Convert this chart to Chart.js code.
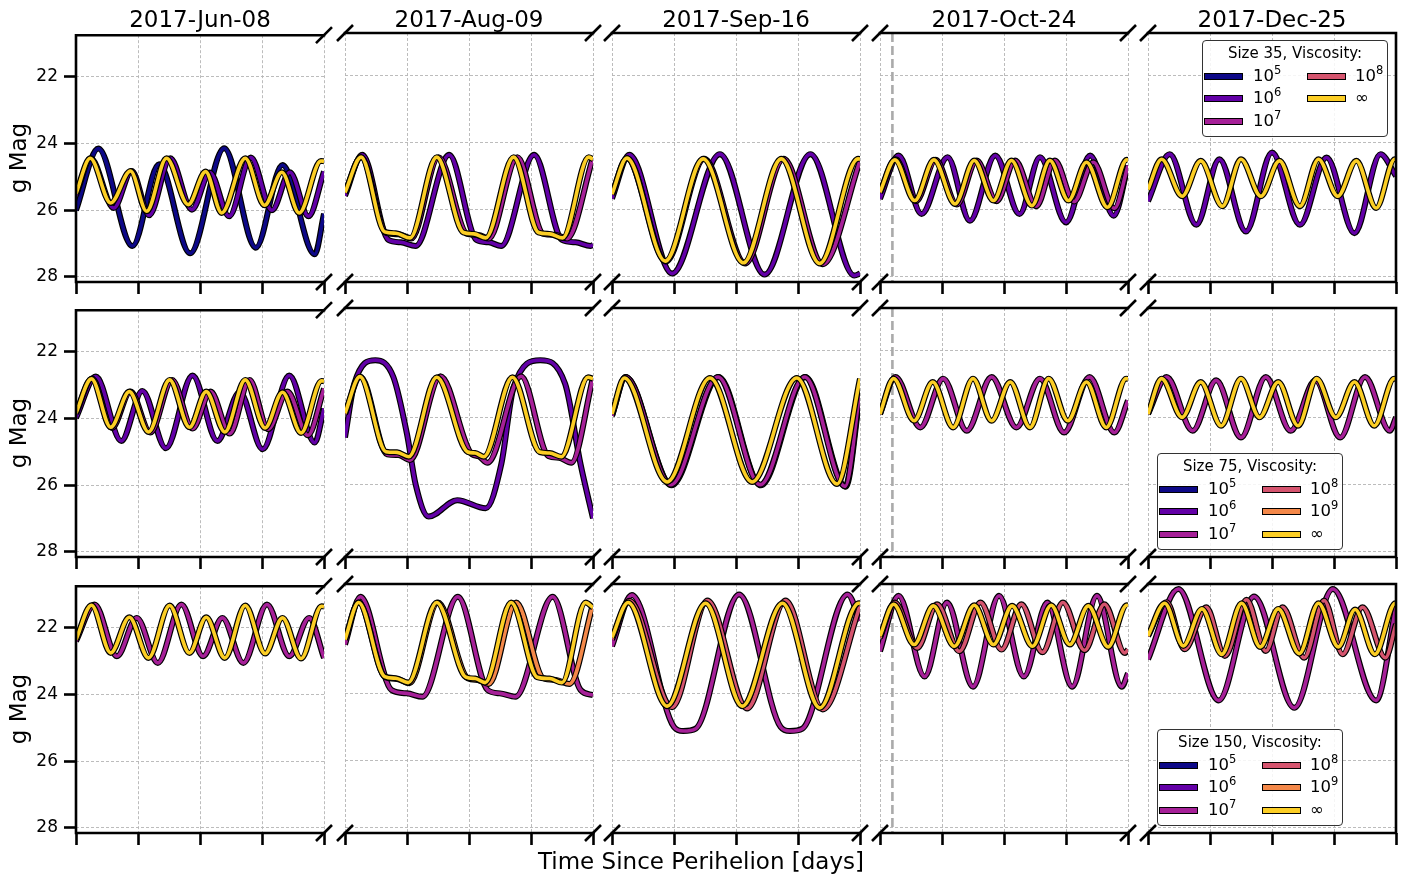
<!DOCTYPE html>
<html>
<head>
<meta charset="utf-8">
<script src="https://cdn.jsdelivr.net/npm/chart.js@4.4.1/dist/chart.umd.min.js"></script>
<style>
  body { margin: 0; background: #fff; }
  #fig { position: relative; width: 1408px; height: 879px; overflow: hidden; font-family: 'DejaVu Sans', sans-serif; color: #000; }
  #fig canvas { position: absolute; }
  .txt { position: absolute; white-space: nowrap; text-align: center; font-size: 23px; line-height: 26px; height: 26px; }
  .legend { position: absolute; width: 184px; height: 95px; border: 1px solid #333; border-radius: 4px; background: rgba(255,255,255,0.85); }
  .legend .lt { position: absolute; left: 0; right: 0; top: 3px; text-align: center; font-size: 15px; line-height: 18px; }
  .legend .sw { position: absolute; width: 37px; height: 5px; border: 1.5px solid #000; }
  .legend .lb { position: absolute; font-size: 16.5px; line-height: 20px; }
  .legend sup { font-size: 11.5px; vertical-align: 7px; line-height: 0; }
</style>
</head>
<body>
<div id="fig"></div>
<script>
// ---------- axes ----------
const dates = ['2017-Jun-08', '2017-Aug-09', '2017-Sep-16', '2017-Oct-24', '2017-Dec-25'];
const sizes = [35, 75, 150];
const viscKeys = ['v5', 'v6', 'v7', 'v8', 'v9', 'inf'];
const viscLabels = ['10<sup>5</sup>', '10<sup>6</sup>', '10<sup>7</sup>', '10<sup>8</sup>', '10<sup>9</sup>', '∞'];
const viscColors = ['#0d0887', '#6300a7', '#a62098', '#d5546e', '#f48849', '#fcce25'];
const legendKeys = [
  ['v5', 'v6', 'v7', 'v8', 'inf'],
  ['v5', 'v6', 'v7', 'v8', 'v9', 'inf'],
  ['v5', 'v6', 'v7', 'v8', 'v9', 'inf']
];
const magTicks = [22, 24, 26, 28];
const magRange = [20.75, 28.15];
const timeTicks = [0, 1, 2, 3, 4];
const timeRange = [0, 4];
const markerTime = 0.2;   // dashed marker, Oct-24 column
const markerCol = 3;

// ---------- light curves: [time, g mag] ----------
// size 35
const s35_jun08_v5 = [[0,26.0],[0.36,24.15],[0.91,27.07],[1.34,24.62],[1.84,27.29],[2.39,24.14],[2.9,27.12],[3.33,24.64],[3.85,27.32],[4,26.1]];
const s35_jun08_v6 = [[0,25.55],[0.24,24.45],[0.61,25.93],[0.9,24.82],[1.18,26.15],[1.52,24.44],[1.87,25.98],[2.16,24.87],[2.47,26.18],[2.82,24.42],[3.16,26.0],[3.45,24.86],[3.75,26.18],[4,24.84]];
const s35_jun08_inf = [[0,25.5],[0.23,24.44],[0.56,25.78],[0.88,24.82],[1.14,26.03],[1.46,24.44],[1.81,25.83],[2.09,24.84],[2.35,26.08],[2.73,24.44],[3.04,25.85],[3.32,24.86],[3.6,26.08],[3.95,24.52],[4,24.53]];

const s35_aug09_v6 = [[0,25.59],[0.28,24.37],[0.7,26.9],[0.9,26.97],[1.14,27.08],[1.68,24.37],[2.12,26.9],[2.32,26.97],[2.52,27.08],[3.05,24.37],[3.5,26.9],[3.72,26.97],[3.96,27.08],[4,27.05]];
const s35_aug09_v7 = [[0,25.5],[0.26,24.44],[0.67,26.7],[0.86,26.73],[1.07,26.86],[1.51,24.44],[1.97,26.72],[2.15,26.75],[2.32,26.86],[2.78,24.44],[3.2,26.72],[3.4,26.75],[3.58,26.86],[4,24.45]];
const s35_aug09_inf = [[0,25.49],[0.26,24.44],[0.64,26.66],[0.82,26.7],[1.05,26.84],[1.48,24.44],[1.91,26.68],[2.08,26.72],[2.27,26.84],[2.72,24.44],[3.12,26.68],[3.3,26.72],[3.51,26.84],[3.93,24.44],[4,24.5]];

const s35_sep16_v6 = [[0,25.67],[0.28,24.37],[0.97,27.9],[1.74,24.35],[2.46,27.93],[3.2,24.35],[3.91,27.96],[4,27.9]];
const s35_sep16_v7 = [[0,25.55],[0.24,24.47],[0.87,27.54],[1.49,24.49],[2.15,27.6],[2.77,24.49],[3.4,27.62],[4,24.55]];
const s35_sep16_inf = [[0,25.54],[0.24,24.47],[0.86,27.53],[1.47,24.49],[2.12,27.58],[2.73,24.49],[3.35,27.6],[3.97,24.49],[4,24.5]];

const s35_oct24_v6 = [[0,25.68],[0.3,24.39],[0.67,26.13],[1.09,24.44],[1.45,26.33],[1.86,24.39],[2.25,26.13],[2.58,24.44],[3.0,26.38],[3.39,24.39],[3.77,26.18],[4,24.69]];
const s35_oct24_v7 = [[0,25.5],[0.25,24.5],[0.58,25.75],[0.9,24.52],[1.24,25.85],[1.56,24.54],[1.88,25.75],[2.18,24.54],[2.52,25.9],[2.82,24.54],[3.13,25.76],[3.44,24.59],[3.78,25.96],[4,24.7]];
const s35_oct24_inf = [[0,25.48],[0.24,24.52],[0.56,25.73],[0.87,24.52],[1.21,25.83],[1.52,24.54],[1.83,25.73],[2.12,24.54],[2.45,25.88],[2.74,24.54],[3.04,25.73],[3.33,24.59],[3.67,25.93],[3.98,24.52],[4,24.53]];

const s35_dec25_v6 = [[0,25.75],[0.35,24.35],[0.78,26.45],[1.15,24.5],[1.58,26.65],[2.0,24.3],[2.45,26.45],[2.88,24.45],[3.33,26.7],[3.75,24.35],[4,25.0]];
const s35_dec25_inf = [[0,25.4],[0.22,24.5],[0.55,25.6],[0.85,24.55],[1.2,25.9],[1.5,24.5],[1.82,25.6],[2.12,24.55],[2.45,25.9],[2.75,24.5],[3.06,25.6],[3.36,24.55],[3.68,25.95],[3.98,24.5],[4,24.5]];

// size 75
const s75_jun08_v6 = [[0,23.98],[0.32,22.74],[0.73,24.67],[1.07,23.17],[1.45,24.89],[1.88,22.71],[2.28,24.67],[2.64,23.2],[3.01,24.92],[3.44,22.71],[3.85,24.72],[4,23.7]];
const s75_jun08_v7 = [[0,23.85],[0.26,22.8],[0.58,24.28],[0.88,23.19],[1.2,24.42],[1.55,22.84],[1.88,24.3],[2.17,23.19],[2.48,24.45],[2.8,22.84],[3.1,24.32],[3.41,23.19],[3.74,24.5],[4,23.1]];
const s75_jun08_inf = [[0,23.83],[0.25,22.81],[0.56,24.26],[0.86,23.19],[1.17,24.4],[1.51,22.84],[1.83,24.26],[2.1,23.19],[2.4,24.4],[2.73,22.84],[3.05,24.28],[3.33,23.21],[3.63,24.43],[3.96,22.87],[4,22.88]];

const s75_aug09_v6 = [[0,24.6],[0.15,23.0],[0.49,22.3],[0.78,22.8],[1.0,24.5],[1.14,26.0],[1.35,26.95],[1.81,26.46],[2.27,26.7],[2.52,25.4],[2.72,23.1],[3.15,22.3],[3.55,23.0],[3.8,25.4],[4,27.0]];
const s75_aug09_v7 = [[0,23.9],[0.25,22.79],[0.68,25.1],[0.86,25.12],[1.05,25.27],[1.54,22.78],[2.05,25.1],[2.15,25.15],[2.3,25.35],[2.84,22.78],[3.28,25.15],[3.45,25.2],[3.65,25.35],[4,22.82]];
const s75_aug09_inf = [[0,23.88],[0.24,22.79],[0.66,25.02],[0.84,25.04],[1.03,25.17],[1.48,22.81],[1.98,25.03],[2.1,25.06],[2.24,25.17],[2.7,22.81],[3.14,25.03],[3.3,25.06],[3.49,25.17],[3.92,22.81],[4,22.85]];

const s75_sep16_v6 = [[0,23.95],[0.22,22.8],[0.96,26.02],[1.72,22.8],[2.4,26.02],[3.12,22.8],[3.77,26.06],[4,23.3]];
const s75_sep16_v7 = [[0,23.95],[0.22,22.8],[0.95,26.0],[1.71,22.8],[2.39,26.0],[3.11,22.8],[3.76,26.05],[4,23.2]];
const s75_sep16_inf = [[0,23.9],[0.2,22.83],[0.89,25.92],[1.58,22.83],[2.26,25.92],[2.98,22.83],[3.63,25.98],[4,22.85]];

const s75_oct24_v7 = [[0,23.9],[0.25,22.8],[0.65,24.3],[1.02,22.85],[1.4,24.4],[1.8,22.8],[2.2,24.3],[2.58,22.85],[2.97,24.45],[3.38,22.8],[3.78,24.45],[4,23.5]];
const s75_oct24_inf = [[0,23.9],[0.22,22.85],[0.55,24.1],[0.85,22.95],[1.18,24.3],[1.5,22.85],[1.8,24.1],[2.1,22.95],[2.42,24.3],[2.72,22.85],[3.03,24.1],[3.33,22.95],[3.65,24.3],[3.97,22.85],[4,22.86]];

const s75_dec25_v7 = [[0,23.9],[0.3,22.8],[0.72,24.4],[1.1,22.9],[1.5,24.6],[1.9,22.8],[2.3,24.4],[2.7,22.9],[3.1,24.6],[3.5,22.8],[3.9,24.4],[4,24.0]];
const s75_dec25_inf = [[0,23.9],[0.22,22.85],[0.55,24.0],[0.85,22.95],[1.18,24.25],[1.5,22.85],[1.8,24.0],[2.1,22.95],[2.42,24.25],[2.72,22.85],[3.03,24.0],[3.33,22.95],[3.65,24.25],[3.97,22.85],[4,22.86]];

// size 150
const s150_jun08_v7 = [[0,22.4],[0.3,21.3],[0.66,22.85],[0.98,21.7],[1.32,23.05],[1.7,21.3],[2.05,22.85],[2.36,21.7],[2.7,23.05],[3.08,21.3],[3.44,22.85],[3.76,21.7],[4,22.9]];
const s150_jun08_inf = [[0,22.35],[0.25,21.32],[0.56,22.75],[0.86,21.68],[1.17,22.9],[1.51,21.33],[1.83,22.75],[2.1,21.68],[2.4,22.9],[2.73,21.33],[3.05,22.77],[3.33,21.7],[3.63,22.92],[3.96,21.35],[4,21.36]];

const s150_aug09_v7 = [[0,22.55],[0.25,21.13],[0.75,23.9],[1.0,24.0],[1.25,24.1],[1.82,21.13],[2.3,23.9],[2.5,24.0],[2.75,24.1],[3.35,21.13],[3.8,23.9],[4,24.05]];
const s150_aug09_v9 = [[0,22.4],[0.22,21.3],[0.65,23.52],[0.84,23.57],[1.04,23.7],[1.5,21.3],[1.98,23.55],[2.14,23.6],[2.32,23.72],[2.76,21.3],[3.2,23.55],[3.4,23.6],[3.62,23.72],[4,21.35]];
const s150_aug09_inf = [[0,22.4],[0.22,21.3],[0.64,23.5],[0.82,23.55],[1.02,23.68],[1.48,21.3],[1.95,23.52],[2.1,23.56],[2.26,23.68],[2.68,21.3],[3.1,23.52],[3.3,23.56],[3.5,23.68],[3.88,21.3],[4,21.45]];

const s150_sep16_v7 = [[0,22.6],[0.32,21.08],[1.0,25.0],[1.15,25.12],[1.35,25.05],[2.05,21.06],[2.72,25.0],[2.87,25.12],[3.07,25.05],[3.8,21.06],[4,21.84]];
const s150_sep16_v8 = [[0,22.4],[0.28,21.25],[0.97,24.41],[1.54,21.24],[2.18,24.45],[2.8,21.24],[3.4,24.48],[4,21.4]];
const s150_sep16_inf = [[0,22.34],[0.26,21.3],[0.89,24.38],[1.51,21.32],[2.1,24.38],[2.75,21.32],[3.35,24.43],[3.98,21.32],[4,21.33]];

const s150_oct24_v7 = [[0,22.75],[0.3,21.1],[0.72,23.5],[1.08,21.3],[1.5,23.8],[1.92,21.1],[2.32,23.5],[2.7,21.3],[3.1,23.8],[3.5,21.1],[3.9,23.8],[4,23.4]];
const s150_oct24_v8 = [[0,22.35],[0.24,21.3],[0.6,22.65],[0.92,21.35],[1.28,22.75],[1.62,21.3],[1.96,22.7],[2.28,21.35],[2.62,22.78],[2.95,21.3],[3.3,22.72],[3.62,21.35],[3.95,22.8],[4,22.7]];
const s150_oct24_inf = [[0,22.3],[0.22,21.35],[0.55,22.55],[0.86,21.4],[1.2,22.6],[1.52,21.38],[1.83,22.55],[2.13,21.4],[2.46,22.6],[2.76,21.38],[3.06,22.55],[3.36,21.4],[3.68,22.62],[3.98,21.38],[4,21.4]];

const s150_dec25_v7 = [[0,22.99],[0.49,20.9],[1.14,24.21],[1.71,21.12],[2.36,24.43],[2.98,20.9],[3.68,24.21],[4,21.44]];
const s150_dec25_v8 = [[0,22.3],[0.3,21.29],[0.59,22.69],[0.94,21.44],[1.24,22.89],[1.59,21.22],[1.9,22.74],[2.17,21.44],[2.52,22.94],[2.84,21.24],[3.14,22.84],[3.46,21.44],[3.83,22.94],[4,21.94]];
const s150_dec25_inf = [[0,22.29],[0.27,21.32],[0.57,22.59],[0.87,21.49],[1.19,22.84],[1.51,21.32],[1.81,22.62],[2.1,21.49],[2.44,22.82],[2.75,21.32],[3.07,22.62],[3.34,21.51],[3.66,22.84],[3.99,21.32],[4,21.32]];

// rows = sizes, columns = dates
const panels = [
  [
    { v5: s35_jun08_v5, v6: s35_jun08_v6, inf: s35_jun08_inf },
    { v6: s35_aug09_v6, v7: s35_aug09_v7, inf: s35_aug09_inf },
    { v6: s35_sep16_v6, v7: s35_sep16_v7, inf: s35_sep16_inf },
    { v6: s35_oct24_v6, v7: s35_oct24_v7, inf: s35_oct24_inf },
    { v6: s35_dec25_v6, inf: s35_dec25_inf }
  ],
  [
    { v6: s75_jun08_v6, v7: s75_jun08_v7, inf: s75_jun08_inf },
    { v6: s75_aug09_v6, v7: s75_aug09_v7, inf: s75_aug09_inf },
    { v6: s75_sep16_v6, v7: s75_sep16_v7, inf: s75_sep16_inf },
    { v7: s75_oct24_v7, inf: s75_oct24_inf },
    { v7: s75_dec25_v7, inf: s75_dec25_inf }
  ],
  [
    { v7: s150_jun08_v7, inf: s150_jun08_inf },
    { v7: s150_aug09_v7, v9: s150_aug09_v9, inf: s150_aug09_inf },
    { v7: s150_sep16_v7, v8: s150_sep16_v8, inf: s150_sep16_inf },
    { v7: s150_oct24_v7, v8: s150_oct24_v8, inf: s150_oct24_inf },
    { v7: s150_dec25_v7, v8: s150_dec25_v8, inf: s150_dec25_inf }
  ]
];

// ---------- layout ----------
const colLeft = [76, 345, 612, 880, 1148];
const rowTop = [33, 308, 584];
const panelW = 248, panelH = 249;
const PAD = 14, YAXIS_W = 66, XAXIS_H = 16;

const fig = document.getElementById('fig');

// spines on top/bottom (and outer sides), "//" marks at the axis breaks
const framePlugin = {
  id: 'frame',
  afterDatasetsDraw(chart, args, opts) {
    const { ctx, chartArea: a } = chart;
    ctx.save();
    ctx.strokeStyle = '#000';
    ctx.lineWidth = 2.6;
    ctx.lineCap = 'square';
    ctx.beginPath();
    ctx.moveTo(a.left, a.top); ctx.lineTo(a.right, a.top);
    ctx.moveTo(a.left, a.bottom); ctx.lineTo(a.right, a.bottom);
    if (opts.first) { ctx.moveTo(a.left, a.top); ctx.lineTo(a.left, a.bottom); }
    if (opts.last) { ctx.moveTo(a.right, a.top); ctx.lineTo(a.right, a.bottom); }
    ctx.stroke();
    const d = 8;
    const slash = (x, y) => { ctx.moveTo(x - d, y + d); ctx.lineTo(x + d, y - d); };
    ctx.lineCap = 'butt';
    ctx.beginPath();
    if (!opts.first) { slash(a.left, a.top); slash(a.left, a.bottom); }
    if (!opts.last) { slash(a.right, a.top); slash(a.right, a.bottom); }
    ctx.stroke();
    ctx.restore();
  }
};

function toXY(pts) { return pts.map(([x, y]) => ({ x, y })); }

function buildDatasets(r, c) {
  const sets = [];
  if (c === markerCol) {
    sets.push({
      data: [{ x: markerTime, y: magRange[0] }, { x: markerTime, y: magRange[1] }],
      borderColor: '#aaaaaa', borderWidth: 2.6, borderDash: [9, 4], tension: 0, clip: 0
    });
  }
  const curves = panels[r][c];
  viscKeys.forEach((k, i) => {
    if (!curves[k]) return;
    const data = toXY(curves[k]);
    // black outline underneath each coloured curve
    sets.push({ data, borderColor: '#000', borderWidth: 6, cubicInterpolationMode: 'monotone', clip: 0 });
    sets.push({ data, borderColor: viscColors[i], borderWidth: 3.6, cubicInterpolationMode: 'monotone', clip: 0 });
  });
  // first dataset is drawn on top in Chart.js
  return sets.reverse();
}

function makePanel(r, c) {
  const first = c === 0, last = c === 4;
  const padL = first ? PAD + YAXIS_W : PAD;
  const cv = document.createElement('canvas');
  cv.width = panelW + padL + PAD;
  cv.height = panelH + PAD + XAXIS_H + 4;
  cv.style.left = (colLeft[c] - padL) + 'px';
  cv.style.top = (rowTop[r] - PAD) + 'px';
  fig.appendChild(cv);

  const gridLine = { color: '#b4b4b4', lineWidth: 0.9, tickColor: '#000', tickWidth: 2.6, tickLength: 12 };

  new Chart(cv, {
    type: 'line',
    data: { datasets: buildDatasets(r, c) },
    options: {
      responsive: false,
      animation: false,
      devicePixelRatio: 1,
      events: [],
      layout: { padding: { left: PAD, right: PAD, top: PAD, bottom: 4 } },
      elements: { point: { radius: 0 } },
      plugins: {
        legend: { display: false },
        tooltip: { enabled: false },
        frame: { first, last }
      },
      scales: {
        x: {
          type: 'linear', min: timeRange[0], max: timeRange[1],
          afterBuildTicks: s => { s.ticks = timeTicks.map(value => ({ value })); },
          afterFit: s => { s.height = XAXIS_H; },
          grid: gridLine,
          border: { display: false, dash: [3, 2] },
          ticks: { display: false }
        },
        y: {
          type: 'linear', reverse: true, min: magRange[0], max: magRange[1],
          afterBuildTicks: s => { s.ticks = magTicks.map(value => ({ value })); },
          afterFit: s => { s.width = first ? YAXIS_W : 0; },
          grid: Object.assign({}, gridLine, { drawTicks: first }),
          border: { display: false, dash: [3, 2] },
          ticks: { display: first, color: '#000', padding: 6, font: { family: 'DejaVu Sans', size: 17 } }
        }
      }
    },
    plugins: [framePlugin]
  });
}

function addText(text, left, top, width, extra) {
  const d = document.createElement('div');
  d.className = 'txt';
  d.textContent = text;
  d.style.left = left + 'px';
  d.style.top = top + 'px';
  d.style.width = width + 'px';
  if (extra) Object.assign(d.style, extra);
  fig.appendChild(d);
}

function makeLegend(r, left, top) {
  const box = document.createElement('div');
  box.className = 'legend';
  box.style.left = left + 'px';
  box.style.top = top + 'px';
  let html = `<div class="lt">Size ${sizes[r]}, Viscosity:</div>`;
  const keys = legendKeys[r];
  const perCol = Math.ceil(keys.length / 2);
  const rowY = [36, 58, 81];
  keys.forEach((k, n) => {
    const i = viscKeys.indexOf(k);
    const col = Math.floor(n / perCol), row = n % perCol;
    const sx = col ? 104 : 1, lx = col ? 152 : 50;
    html += `<div class="sw" style="left:${sx}px;top:${rowY[row] - 4}px;background:${viscColors[i]}"></div>`;
    html += `<div class="lb" style="left:${lx}px;top:${rowY[row] - 11}px">${viscLabels[i]}</div>`;
  });
  box.innerHTML = html;
  fig.appendChild(box);
}

for (let r = 0; r < 3; r++) {
  for (let c = 0; c < 5; c++) makePanel(r, c);
  addText('g Mag', -82, rowTop[r] + panelH / 2 - 13, 200, { transform: 'rotate(-90deg)' });
}
dates.forEach((d, c) => addText(d, colLeft[c], 6, panelW));
addText('Time Since Perihelion [days]', 450, 848, 502);

makeLegend(0, 1202, 40);
makeLegend(1, 1157, 453);
makeLegend(2, 1157, 729);
</script>
</body>
</html>
